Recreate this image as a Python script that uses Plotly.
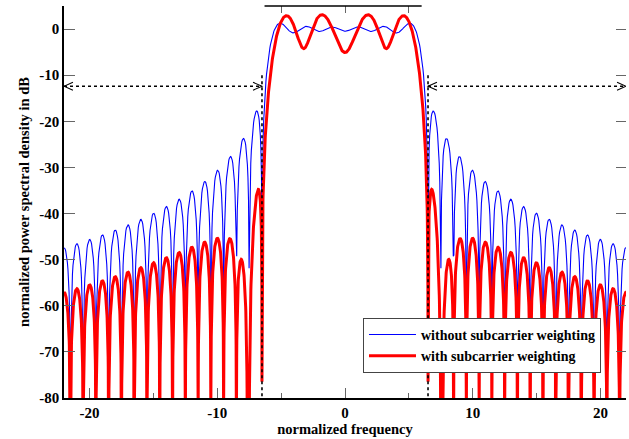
import numpy as np
import plotly.graph_objects as go

# OFDM symbol with 12 subcarriers at half-integer normalized frequencies
subcarrier_freqs = [-5.5, -4.5, -3.5, -2.5, -1.5, -0.5, 0.5, 1.5, 2.5, 3.5, 4.5, 5.5]

# subcarrier amplitudes: plain OFDM and with sidelobe-suppressing weights
weights_plain = [1.0, 1.0, 1.0, 1.0, 1.0, 1.0, 1.0, 1.0, 1.0, 1.0, 1.0, 1.0]
weights_weighted = [0.6759, 1.3899, 0.6851, 1.0515, 1.3558, 0.6832,
                    0.6832, 1.3558, 1.0515, 0.6851, 1.3899, 0.6759]

# axis ticks
x_ticks = [-20, -10, 0, 10, 20]
x_tick_labels = ["-20", "-10", "0", "10", "20"]
x_minor_ticks = [-15, -5, 5, 15]
top_ticks = [-5, 0, 5]
y_ticks = [0, -10, -20, -30, -40, -50, -60, -70, -80]
y_tick_labels = ["0", "-10", "-20", "-30", "-40", "-50", "-60", "-70", "-80"]

# band edge (first null outside the band) and level of the marker arrows
band_edge = 6.5
arrow_level = -12.4
x_lim = 22.0
y_lim = [-80, 5]


def spectrum_db(freqs, weights):
    f = np.asarray(freqs)[:, None]
    fk = np.asarray(subcarrier_freqs)[None, :]
    a = (np.asarray(weights)[None, :] * np.sinc(f - fk)).sum(axis=1)
    return 20 * np.log10(np.abs(a) + 1e-300)


f_plain = np.linspace(-x_lim, x_lim, 1000)
f_weighted = np.linspace(-x_lim, x_lim, 4001)
psd_plain = spectrum_db(f_plain, weights_plain)
psd_weighted = spectrum_db(f_weighted, weights_weighted)

FONT = "Liberation Serif"

fig = go.Figure()
fig.add_trace(go.Scatter(x=f_plain, y=psd_plain, mode="lines",
                         line=dict(color="#0000ff", width=1.1),
                         name="without subcarrier weighting"))
fig.add_trace(go.Scatter(x=f_weighted, y=psd_weighted, mode="lines",
                         line=dict(color="#ff0000", width=3),
                         name="with subcarrier weighting"))
# carriers for the mirrored right-hand ticks and the top ticks
fig.add_trace(go.Scatter(x=[], y=[], yaxis="y2", showlegend=False, hoverinfo="skip"))
fig.add_trace(go.Scatter(x=[], y=[], xaxis="x2", showlegend=False, hoverinfo="skip"))

dot = dict(color="black", width=1.6, dash="dot")
shapes = []
# band-edge markers
for s in (-1, 1):
    shapes.append(dict(type="line", xref="x", yref="y", x0=s * band_edge, x1=s * band_edge,
                       y0=-10, y1=y_lim[0], line=dot, layer="above"))
# out-of-band arrows
for x0, x1 in ((-x_lim, -band_edge), (band_edge, x_lim)):
    shapes.append(dict(type="line", xref="x", yref="y", x0=x0, x1=x1,
                       y0=arrow_level, y1=arrow_level, line=dot, layer="above"))
    dx, dy = 0.7, 0.85
    for tip, d in ((x0, 1), (x1, -1)):
        shapes.append(dict(type="path", xref="x", yref="y", layer="above",
                           path=f"M {tip + d * dx},{arrow_level + dy} L {tip},{arrow_level} "
                                f"L {tip + d * dx},{arrow_level - dy}",
                           line=dict(color="black", width=1.1)))
# partial top frame
shapes.append(dict(type="line", xref="x", yref="paper", x0=-6.3, x1=6.0, y0=1, y1=1,
                   line=dict(color="black", width=1.5), layer="above"))

tick_font = dict(family=FONT, size=15, color="black", weight="bold")
title_font = dict(family=FONT, size=14.5, color="black", weight="bold")

fig.update_layout(
    width=629, height=439,
    margin=dict(l=64, r=3, t=6, b=41),
    plot_bgcolor="white", paper_bgcolor="white",
    font=dict(family=FONT, size=14, color="black"),
    showlegend=True,
    xaxis=dict(range=[-x_lim, x_lim], tickvals=x_ticks, ticktext=x_tick_labels,
               ticks="inside", ticklen=10, tickwidth=1.2, tickcolor="#666666",
               minor=dict(tickvals=x_minor_ticks, ticks="inside", ticklen=5,
                          tickwidth=1.2, tickcolor="#666666", showgrid=False),
               showline=True, linecolor="black", linewidth=1.5,
               showgrid=False, zeroline=False, tickfont=tick_font,
               title=dict(text="normalized frequency", font=title_font, standoff=3),
               automargin=False),
    xaxis2=dict(range=[-x_lim, x_lim], overlaying="x", side="top", anchor="y",
                tickvals=top_ticks, ticks="inside", ticklen=7, tickwidth=1.2,
                tickcolor="#666666", showticklabels=False, showline=False,
                showgrid=False, zeroline=False),
    yaxis=dict(range=y_lim, tickvals=y_ticks, ticktext=y_tick_labels,
               ticks="inside", ticklen=11, tickwidth=1.2, tickcolor="#666666",
               showline=True, linecolor="black", linewidth=1.5,
               showgrid=False, zeroline=False, tickfont=tick_font,
               title=dict(text="normalized power spectral density in dB",
                          font=title_font, standoff=6),
               automargin=False),
    yaxis2=dict(range=y_lim, overlaying="y", side="right", anchor="x",
                tickvals=y_ticks, ticks="inside", ticklen=10, tickwidth=1.2,
                tickcolor="#666666", showticklabels=False, showline=False,
                showgrid=False, zeroline=False),
    legend=dict(x=0.9555, y=0.064, xanchor="right", yanchor="bottom",
                bgcolor="white", bordercolor="#444444", borderwidth=1,
                font=dict(family=FONT, size=14, color="black", weight="bold"),
                tracegroupgap=0, itemwidth=47),
    shapes=shapes,
)
fig.write_html("out.html")
